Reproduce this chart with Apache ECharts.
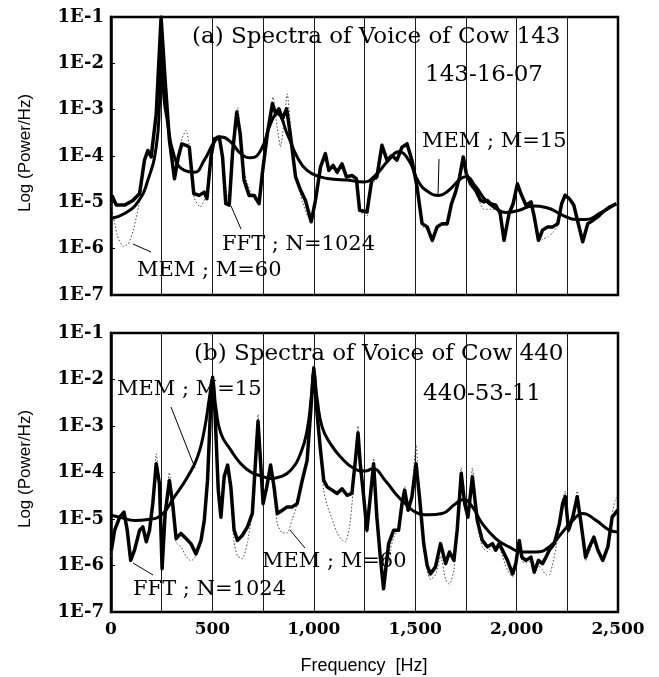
<!DOCTYPE html>
<html><head><meta charset="utf-8">
<script src="https://cdn.jsdelivr.net/npm/echarts@6/dist/echarts.min.js"></script>
<style>html,body{margin:0;padding:0;background:#fff}#c{width:659px;height:677px}</style>
</head><body><div id="c"></div>
<script>
// ---- axis ticks ----
const xMin = 0, xMax = 2500, xStep = 250, xLabelStep = 500;
const yMinExp = -7, yMaxExp = -1;

// ---- Panel (a): [frequency Hz, log10(Power/Hz)] ----
const fftA = [[5,-4.85],[26,-5.06],[67,-5.06],[108,-4.96],[141,-4.81],[165,-4.09],[182,-3.88],[198,-4.02],[223,-3.09],[247,-1.0],[267,-2.37],[288,-3.66],[313,-4.49],[332,-4.02],[349,-3.74],[370,-3.77],[386,-3.81],[408,-4.81],[435,-4.85],[460,-4.78],[473,-4.92],[493,-4.02],[509,-3.63],[534,-3.59],[550,-4.02],[566,-5.03],[583,-5.06],[599,-3.95],[620,-3.05],[637,-3.52],[656,-4.52],[681,-4.85],[706,-4.85],[730,-5.03],[746,-4.38],[771,-3.52],[796,-2.87],[812,-3.09],[828,-2.98],[845,-3.2],[866,-2.98],[886,-3.59],[910,-4.45],[935,-4.74],[959,-4.96],[987,-5.42],[1008,-4.96],[1033,-4.24],[1057,-3.95],[1074,-4.31],[1095,-4.2],[1115,-4.35],[1139,-4.17],[1161,-4.45],[1188,-4.42],[1210,-4.49],[1226,-5.17],[1262,-5.21],[1286,-4.52],[1311,-4.45],[1336,-3.77],[1361,-4.09],[1385,-3.99],[1410,-4.09],[1435,-3.81],[1460,-3.74],[1484,-4.09],[1509,-4.67],[1534,-5.46],[1559,-5.53],[1584,-5.82],[1608,-5.53],[1633,-5.46],[1658,-5.46],[1679,-5.03],[1699,-4.78],[1719,-4.45],[1737,-4.02],[1752,-4.38],[1773,-4.6],[1798,-4.74],[1823,-4.96],[1839,-4.99],[1856,-4.96],[1872,-5.03],[1897,-5.06],[1919,-5.24],[1938,-5.82],[1963,-5.24],[1983,-5.03],[2004,-4.6],[2021,-4.81],[2046,-5.06],[2071,-4.99],[2087,-5.31],[2108,-5.82],[2128,-5.6],[2153,-5.53],[2178,-5.53],[2203,-5.46],[2222,-5.03],[2239,-4.85],[2260,-4.92],[2282,-5.06],[2302,-5.42],[2326,-5.85],[2351,-5.46],[2376,-5.39],[2401,-5.31],[2425,-5.21],[2458,-5.1],[2491,-5.03]];
const mem15A = [[0,-5.35],[67,-5.24],[133,-4.99],[182,-4.52],[223,-3.8],[240,-2.8],[250,-1.7],[260,-2.7],[272,-3.09],[313,-4.02],[362,-4.31],[411,-4.35],[460,-4.09],[509,-3.7],[542,-3.59],[591,-3.7],[640,-3.95],[689,-4.04],[738,-3.88],[787,-3.3],[820,-3.09],[869,-3.52],[918,-4.02],[967,-4.31],[1033,-4.45],[1098,-4.5],[1164,-4.52],[1246,-4.56],[1303,-4.42],[1369,-4.09],[1418,-3.91],[1468,-4.09],[1517,-4.56],[1567,-4.78],[1617,-4.85],[1666,-4.74],[1716,-4.52],[1749,-4.45],[1798,-4.66],[1848,-4.96],[1898,-5.13],[1947,-5.22],[2013,-5.17],[2080,-5.08],[2145,-5.11],[2228,-5.28],[2294,-5.37],[2343,-5.37],[2409,-5.24],[2492,-5.03]];
const mem60A = [[0,-5.0],[30,-5.7],[60,-5.95],[85,-5.9],[110,-5.6],[140,-5.0],[165,-4.2],[185,-3.9],[200,-4.0],[225,-3.0],[250,-1.3],[270,-2.5],[290,-3.7],[310,-4.3],[335,-3.9],[352,-3.6],[370,-3.45],[390,-3.9],[410,-4.9],[440,-5.1],[465,-4.9],[490,-4.2],[510,-3.6],[535,-3.55],[555,-4.2],[575,-4.9],[590,-4.7],[610,-3.5],[625,-2.95],[640,-3.6],[660,-4.4],[690,-4.8],[720,-5.0],[745,-4.6],[775,-3.5],[799,-2.73],[820,-3.4],[836,-3.8],[855,-3.2],[869,-2.66],[890,-3.6],[915,-4.5],[945,-5.0],[970,-5.3],[990,-5.4],[1010,-5.0],[1035,-4.3],[1057,-3.9],[1075,-4.3],[1095,-4.25],[1115,-4.4],[1139,-4.2],[1161,-4.5],[1188,-4.5],[1210,-4.6],[1230,-5.2],[1262,-5.3],[1286,-4.6],[1311,-4.5],[1336,-3.75],[1361,-4.1],[1385,-4.0],[1410,-4.1],[1435,-3.8],[1460,-3.7],[1484,-4.1],[1509,-4.7],[1534,-5.5],[1559,-5.6],[1584,-5.85],[1608,-5.6],[1633,-5.5],[1658,-5.5],[1679,-5.05],[1699,-4.8],[1719,-4.45],[1737,-4.0],[1752,-4.4],[1773,-4.65],[1798,-4.8],[1823,-5.05],[1839,-5.15],[1856,-5.15],[1872,-5.15],[1897,-5.15],[1919,-5.3],[1938,-5.85],[1963,-5.3],[1983,-5.05],[2004,-4.6],[2021,-4.85],[2046,-5.1],[2071,-5.05],[2087,-5.4],[2108,-5.85],[2128,-5.8],[2153,-5.75],[2178,-5.65],[2203,-5.5],[2222,-5.05],[2239,-4.8],[2260,-4.9],[2282,-5.1],[2302,-5.45],[2326,-5.85],[2351,-5.5],[2376,-5.4],[2401,-5.35],[2425,-5.25],[2458,-5.1],[2491,-5.0]];

// ---- Panel (b) ----
const fftB = [[2,-5.67],[18,-5.24],[43,-4.96],[64,-4.85],[80,-5.24],[97,-5.89],[116,-5.67],[141,-5.24],[157,-5.17],[174,-5.49],[190,-5.24],[206,-4.67],[223,-3.81],[239,-4.24],[252,-6.07],[267,-4.88],[288,-4.17],[304,-4.67],[321,-5.42],[345,-5.31],[370,-5.42],[394,-5.53],[419,-5.75],[444,-5.46],[460,-5.03],[476,-4.17],[490,-2.73],[501,-1.95],[513,-2.73],[529,-4.38],[542,-4.96],[558,-4.09],[575,-3.84],[591,-4.31],[607,-5.24],[624,-5.46],[648,-5.35],[673,-5.17],[697,-4.88],[714,-3.66],[725,-2.9],[738,-3.81],[750,-4.67],[768,-4.31],[787,-3.84],[804,-4.31],[820,-4.88],[845,-4.81],[869,-4.74],[894,-4.74],[918,-4.67],[943,-4.17],[967,-3.74],[984,-2.73],[1000,-1.75],[1016,-2.73],[1033,-3.52],[1049,-4.17],[1066,-4.31],[1090,-4.38],[1115,-4.45],[1139,-4.35],[1164,-4.49],[1188,-4.45],[1205,-3.74],[1218,-3.15],[1229,-3.81],[1246,-4.52],[1262,-5.24],[1295,-3.81],[1311,-4.96],[1328,-5.82],[1344,-6.5],[1369,-5.53],[1394,-5.24],[1418,-5.24],[1435,-4.67],[1448,-4.38],[1465,-4.81],[1484,-4.52],[1504,-3.81],[1521,-4.52],[1542,-5.53],[1559,-6.0],[1575,-6.18],[1600,-6.03],[1625,-5.53],[1650,-5.96],[1669,-5.71],[1691,-5.89],[1707,-5.24],[1727,-4.02],[1744,-4.67],[1760,-4.96],[1782,-4.09],[1806,-5.03],[1831,-5.46],[1856,-5.6],[1881,-5.53],[1897,-5.67],[1914,-5.53],[1930,-5.67],[1955,-5.89],[1980,-6.18],[1996,-5.96],[2013,-5.46],[2026,-5.82],[2046,-5.89],[2071,-5.82],[2087,-6.14],[2108,-5.89],[2128,-5.96],[2145,-5.82],[2161,-5.67],[2186,-5.53],[2211,-5.1],[2227,-4.67],[2240,-4.52],[2256,-5.24],[2277,-4.96],[2299,-4.52],[2318,-5.1],[2340,-5.82],[2359,-5.6],[2381,-5.39],[2401,-5.67],[2425,-5.89],[2450,-5.6],[2471,-4.96],[2486,-4.88],[2500,-4.8]];
const mem15B = [[2,-4.92],[51,-4.97],[116,-5.03],[182,-5.01],[247,-4.92],[313,-4.52],[378,-4.09],[427,-3.66],[460,-3.09],[485,-2.4],[500,-2.0],[517,-2.6],[542,-3.16],[591,-3.52],[640,-3.81],[689,-3.99],[738,-4.07],[787,-4.13],[837,-4.09],[886,-3.95],[935,-3.59],[967,-3.09],[987,-2.4],[1000,-1.85],[1016,-2.4],[1041,-3.02],[1082,-3.38],[1131,-3.66],[1197,-3.91],[1253,-3.97],[1290,-3.92],[1352,-4.17],[1402,-4.45],[1451,-4.67],[1501,-4.85],[1567,-4.91],[1633,-4.88],[1699,-4.67],[1740,-4.58],[1782,-4.74],[1831,-5.1],[1897,-5.42],[1963,-5.6],[2029,-5.71],[2095,-5.71],[2161,-5.6],[2227,-5.28],[2277,-5.03],[2326,-4.88],[2392,-5.03],[2458,-5.24],[2500,-5.28]];
const mem60B = [[2,-5.8],[18,-5.3],[43,-5.0],[64,-4.85],[80,-5.3],[97,-5.9],[116,-5.7],[141,-5.3],[157,-5.2],[174,-5.5],[190,-5.3],[206,-4.6],[223,-3.6],[239,-4.3],[252,-6.0],[267,-4.9],[288,-4.0],[304,-4.7],[321,-5.5],[345,-5.6],[370,-5.8],[394,-5.9],[419,-5.8],[444,-5.4],[460,-5.0],[476,-4.1],[490,-2.7],[501,-1.9],[513,-2.7],[529,-4.4],[542,-5.0],[558,-4.2],[575,-4.0],[591,-4.5],[607,-5.5],[624,-5.8],[648,-5.85],[673,-5.5],[697,-4.8],[714,-3.5],[725,-2.75],[738,-3.8],[750,-4.7],[768,-4.4],[787,-3.9],[804,-4.5],[820,-5.1],[845,-5.3],[869,-5.3],[894,-5.0],[918,-4.7],[943,-4.2],[967,-3.7],[984,-2.7],[1000,-1.7],[1016,-2.7],[1033,-3.6],[1049,-4.4],[1066,-4.7],[1090,-5.0],[1115,-5.3],[1139,-5.45],[1155,-5.5],[1175,-5.2],[1190,-4.6],[1205,-3.7],[1218,-3.0],[1229,-3.7],[1246,-4.6],[1262,-5.3],[1295,-3.7],[1311,-5.0],[1328,-5.9],[1344,-6.5],[1369,-5.8],[1394,-5.4],[1418,-5.2],[1435,-4.7],[1448,-4.3],[1465,-4.8],[1484,-4.4],[1504,-3.4],[1521,-4.6],[1542,-5.6],[1559,-6.1],[1575,-6.3],[1600,-6.2],[1625,-5.8],[1650,-6.3],[1669,-6.4],[1691,-6.1],[1707,-5.3],[1727,-3.9],[1744,-4.7],[1760,-5.0],[1782,-3.9],[1806,-5.1],[1831,-5.6],[1856,-5.7],[1881,-5.6],[1897,-5.7],[1914,-5.6],[1930,-5.8],[1955,-6.1],[1980,-6.25],[1996,-6.0],[2013,-5.5],[2026,-5.9],[2046,-5.95],[2071,-5.9],[2087,-6.2],[2108,-6.0],[2128,-6.1],[2145,-6.2],[2161,-6.2],[2186,-5.8],[2211,-5.2],[2227,-4.6],[2240,-4.4],[2256,-5.3],[2277,-5.0],[2299,-4.4],[2318,-5.2],[2340,-5.9],[2359,-5.7],[2381,-5.5],[2401,-5.7],[2425,-5.9],[2450,-5.6],[2471,-4.9],[2486,-4.6],[2500,-4.5]];

// ---- texts ----
const titleA = '(a) Spectra of Voice of Cow 143', idA = '143-16-07';
const titleB = '(b) Spectra of Voice of Cow 440', idB = '440-53-11';
const lblMem15 = 'MEM ; M=15', lblMem60 = 'MEM ; M=60', lblFft = 'FFT ; N=1024';
const yTitle = 'Log (Power/Hz)', xTitle = 'Frequency  [Hz]';

const serif = '"DejaVu Serif", serif';
const sans = '"Liberation Sans", Arial, sans-serif';
const chart = echarts.init(document.getElementById('c'), null, {renderer: 'canvas'});

function fmtX(v) { return v % xLabelStep === 0 ? String(v).replace(/\B(?=(\d{3})+(?!\d))/g, ',') : ''; }
function mkX(gi, labels) {
  return {type: 'value', gridIndex: gi, min: xMin, max: xMax, interval: xStep,
    axisLine: {show: false}, axisTick: {show: false},
    splitLine: {show: true, lineStyle: {color: '#000', width: 0.9}},
    axisLabel: {show: labels, formatter: fmtX, margin: 9, color: '#000',
      fontFamily: serif, fontWeight: 'bold', fontSize: 17, showMinLabel: true, showMaxLabel: true}};
}
function mkY(gi) {
  return {type: 'value', gridIndex: gi, min: yMinExp, max: yMaxExp, interval: 1,
    axisLine: {show: true, lineStyle: {color: '#000', width: 2.5}},
    axisTick: {show: true, inside: true, length: 4, lineStyle: {color: '#000', width: 1}},
    splitLine: {show: false},
    axisLabel: {formatter: v => '1E' + v, margin: 7, color: '#000',
      fontFamily: serif, fontWeight: 'bold', fontSize: 18}};
}
function ln(data, gi, kind) {
  const base = {type: 'line', xAxisIndex: gi, yAxisIndex: gi, data: data, symbol: 'none', animation: false, silent: true};
  if (kind === 'fft') return Object.assign(base, {z: 3, lineStyle: {color: '#000', width: 3.5, join: 'round'}});
  if (kind === 'm15') return Object.assign(base, {z: 4, smooth: 0.5, lineStyle: {color: '#000', width: 3}});
  return Object.assign(base, {z: 2, smooth: 0.2, lineStyle: {color: '#444', width: 1, type: [1.5, 2]}});
}
function txt(x, y, s, size) {
  return {type: 'text', left: x, top: y - size * 0.62, z: 50, silent: true,
    style: {text: s, fill: '#000', font: 'normal ' + size + 'px ' + serif}};
}
function seg(x1, y1, x2, y2) {
  return {type: 'line', z: 50, silent: true, shape: {x1, y1, x2, y2}, style: {stroke: '#000', lineWidth: 1}};
}

const option = {
  backgroundColor: '#fff',
  animation: false,
  grid: [
    {left: 111, top: 17, width: 507, height: 278, show: true, borderColor: '#000', borderWidth: 2.5, containLabel: false},
    {left: 111, top: 333, width: 507, height: 279, show: true, borderColor: '#000', borderWidth: 2.5, containLabel: false}
  ],
  xAxis: [mkX(0, false), mkX(1, true)],
  yAxis: [mkY(0), mkY(1)],
  series: [
    ln(mem60A, 0, 'm60'), ln(fftA, 0, 'fft'), ln(mem15A, 0, 'm15'),
    ln(mem60B, 1, 'm60'), ln(fftB, 1, 'fft'), ln(mem15B, 1, 'm15')
  ],
  graphic: [
    txt(192, 40, titleA, 23), txt(425, 78, idA, 23), txt(422, 144, lblMem15, 21),
    txt(222, 247, lblFft, 21), txt(137, 273, lblMem60, 21),
    seg(439, 159, 438, 196), seg(241, 229, 231, 206), seg(151, 252, 133, 244),
    txt(194, 357, titleB, 23), txt(423, 397, idB, 23), txt(117, 392, lblMem15, 21),
    txt(262, 564, lblMem60, 21), txt(133, 592, lblFft, 21),
    seg(171, 407, 195, 468), seg(305, 548, 290, 530), seg(153, 575, 133, 563),
    {type: 'text', x: 25, y: 153, rotation: Math.PI / 2, silent: true,
      style: {text: yTitle, fill: '#000', font: '17px ' + sans, textAlign: 'center', textVerticalAlign: 'middle'}},
    {type: 'text', x: 25, y: 469, rotation: Math.PI / 2, silent: true,
      style: {text: yTitle, fill: '#000', font: '17px ' + sans, textAlign: 'center', textVerticalAlign: 'middle'}},
    {type: 'text', x: 364, y: 666, silent: true,
      style: {text: xTitle, fill: '#000', font: '18px ' + sans, textAlign: 'center', textVerticalAlign: 'middle'}}
  ]
};
chart.setOption(option);
</script></body></html>
